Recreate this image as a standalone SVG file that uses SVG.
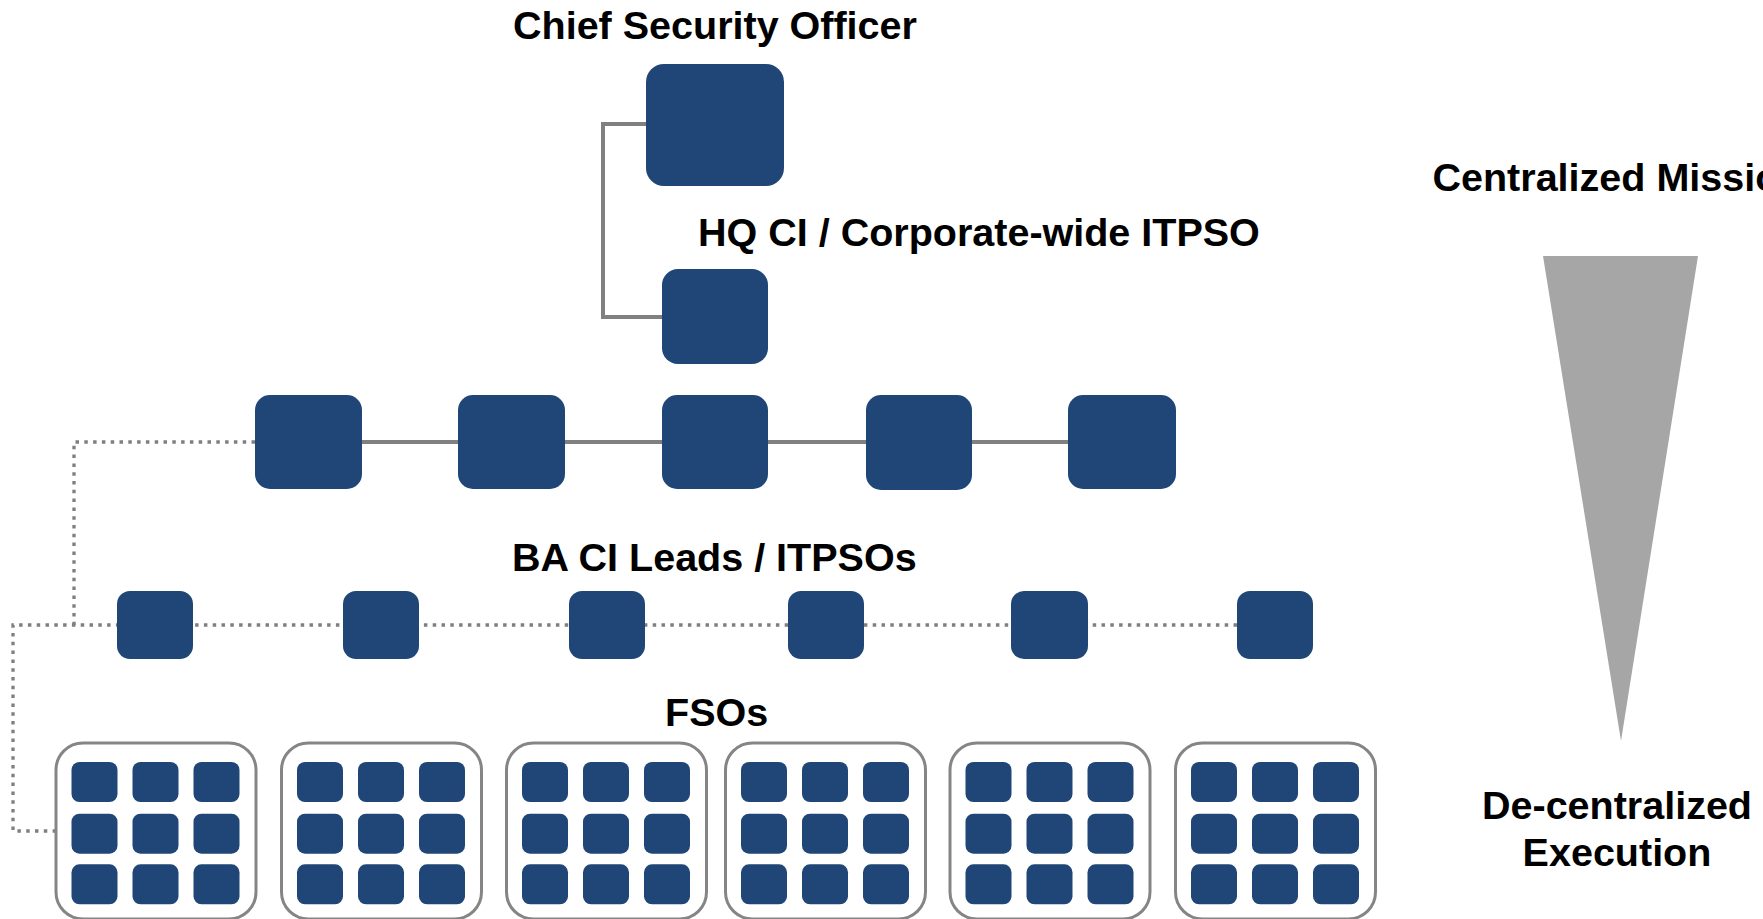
<svg xmlns="http://www.w3.org/2000/svg" width="1763" height="919" viewBox="0 0 1763 919">
<style>
  .box { fill: #1f4677; }
  .grp { fill: #ffffff; stroke: #858585; stroke-width: 3; }
  .lbl { font-family: "Liberation Sans", Arial, sans-serif; font-weight: bold; font-size: 39.5px; fill: #000000; }
  .solid { fill: none; stroke: #808080; stroke-width: 4; }
  .dotted { fill: none; stroke: #7f7f7f; stroke-width: 3.3; stroke-dasharray: 3.5 5.3; }
</style>
<defs>
  <g id="cells">
    <rect class="box" x="15.5" y="19" width="46" height="40" rx="8"/>
    <rect class="box" x="76.5" y="19" width="46" height="40" rx="8"/>
    <rect class="box" x="137.5" y="19" width="46" height="40" rx="8"/>
    <rect class="box" x="15.5" y="70.7" width="46" height="40" rx="8"/>
    <rect class="box" x="76.5" y="70.7" width="46" height="40" rx="8"/>
    <rect class="box" x="137.5" y="70.7" width="46" height="40" rx="8"/>
    <rect class="box" x="15.5" y="121.3" width="46" height="40" rx="8"/>
    <rect class="box" x="76.5" y="121.3" width="46" height="40" rx="8"/>
    <rect class="box" x="137.5" y="121.3" width="46" height="40" rx="8"/>
  </g>
</defs>
<rect width="1763" height="919" fill="#ffffff"/>

<g id="connectors">
  <path class="solid" d="M646,124 H603 V317 H662"/>
  <path class="solid" d="M362,442 H1068"/>
  <path class="dotted" d="M255,442 H74 V625"/>
  <path class="dotted" d="M1237,625 H13 V831 H56"/>
</g>

<g id="cso">
  <rect class="box" x="646" y="64" width="138" height="122" rx="18"/>
  <text class="lbl" x="513" y="39">Chief Security Officer</text>
</g>
<g id="hq">
  <rect class="box" x="662" y="269" width="106" height="95" rx="16"/>
  <text class="lbl" x="698" y="246">HQ CI / Corporate-wide ITPSO</text>
</g>

<g id="ba-1"><rect class="box" x="255" y="395" width="107" height="94" rx="15"/></g>
<g id="ba-2"><rect class="box" x="458" y="395" width="107" height="94" rx="15"/></g>
<g id="ba-3"><rect class="box" x="662" y="395" width="106" height="94" rx="15"/></g>
<g id="ba-4"><rect class="box" x="866" y="395" width="106" height="95" rx="15"/></g>
<g id="ba-5"><rect class="box" x="1068" y="395" width="108" height="94" rx="15"/></g>
<g id="ba-label"><text class="lbl" x="512" y="571">BA CI Leads / ITPSOs</text></g>

<g id="lead-1"><rect class="box" x="117" y="591" width="76" height="68" rx="13"/></g>
<g id="lead-2"><rect class="box" x="343" y="591" width="76" height="68" rx="13"/></g>
<g id="lead-3"><rect class="box" x="569" y="591" width="76" height="68" rx="13"/></g>
<g id="lead-4"><rect class="box" x="788" y="591" width="76" height="68" rx="13"/></g>
<g id="lead-5"><rect class="box" x="1011" y="591" width="77" height="68" rx="13"/></g>
<g id="lead-6"><rect class="box" x="1237" y="591" width="76" height="68" rx="13"/></g>

<g id="fso-label"><text class="lbl" x="665" y="726">FSOs</text></g>

<g id="fso-1"><rect class="grp" x="56" y="743" width="200" height="176" rx="27"/><use href="#cells" x="56" y="743"/></g>
<g id="fso-2"><rect class="grp" x="281.5" y="743" width="200" height="176" rx="27"/><use href="#cells" x="281.5" y="743"/></g>
<g id="fso-3"><rect class="grp" x="506.5" y="743" width="200" height="176" rx="27"/><use href="#cells" x="506.5" y="743"/></g>
<g id="fso-4"><rect class="grp" x="725.5" y="743" width="200" height="176" rx="27"/><use href="#cells" x="725.5" y="743"/></g>
<g id="fso-5"><rect class="grp" x="950" y="743" width="200" height="176" rx="27"/><use href="#cells" x="950" y="743"/></g>
<g id="fso-6"><rect class="grp" x="1175.5" y="743" width="200" height="176" rx="27"/><use href="#cells" x="1175.5" y="743"/></g>

<g id="scale">
  <text class="lbl" x="1432.5" y="191">Centralized Mission</text>
  <polygon points="1543,256 1698,256 1621,741" fill="#a6a6a6"/>
  <text class="lbl" x="1617" y="819" text-anchor="middle">De-centralized</text>
  <text class="lbl" x="1617" y="866" text-anchor="middle">Execution</text>
</g>
</svg>
